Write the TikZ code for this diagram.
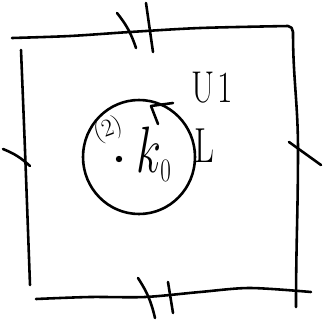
\documentclass[tikz,border=0pt]{standalone}
\usepackage{fix-cm}
\usepackage{fontspec}
\begin{document}
\begin{tikzpicture}[line join=round,line cap=round,x=0.03cm,y=-0.03cm,line width=2.2pt]
			\useasboundingbox (0,0) rectangle (323,325);
			\path
			(139,157) coordinate (O)
			(119,159) coordinate (P);
			% frame
			\draw plot[smooth] coordinates {(12,38) (70,36) (130,32) (200,28) (288,26)}
			to[out=0,in=90] (293,32) to[out=-90,in=90] (298,150) to[out=-90,in=90] (296,307);
			\draw plot[smooth] coordinates {(21,50) (25,150) (30,285)};
			\draw plot[smooth] coordinates {(36,299) (90,297) (145,297) (200,292) (250,288) (311,292)};
			% ticks
			\draw (117,13) to[bend left=10] (136,48);
			\draw (146,3) -- (153,52);
			\draw (138,278) to[bend left=10] (155,318);
			\draw (168,282) -- (173,313);
			\draw (3,149) to[bend left=10] (30,166);
			\draw (289,142) -- (321,165);
			% circle with direction
			\draw (O) ellipse [x radius=56,y radius=57];
			\draw (173,103) -- (151,106) -- (158,124);
			\fill (P) circle[radius=3.2];
			\node[xscale=0.75,inner sep=0pt] (U) at (212,88) {\fontsize{38}{38}\selectfont U\kern4pt 1};
			\node[xscale=0.7,inner sep=0pt] (L) at (204,146) {\fontsize{42}{42}\selectfont L};
			\node[rotate=20,inner sep=0pt] (two) at (108,130) {\fontsize{21}{21}\selectfont (2)};
			\node[anchor=base west,inner sep=0pt,xscale=0.7] (k) at (136,172) {\fontsize{56}{56}\selectfont $k_{\scriptscriptstyle 0}$};
		\end{tikzpicture}
\end{document}
